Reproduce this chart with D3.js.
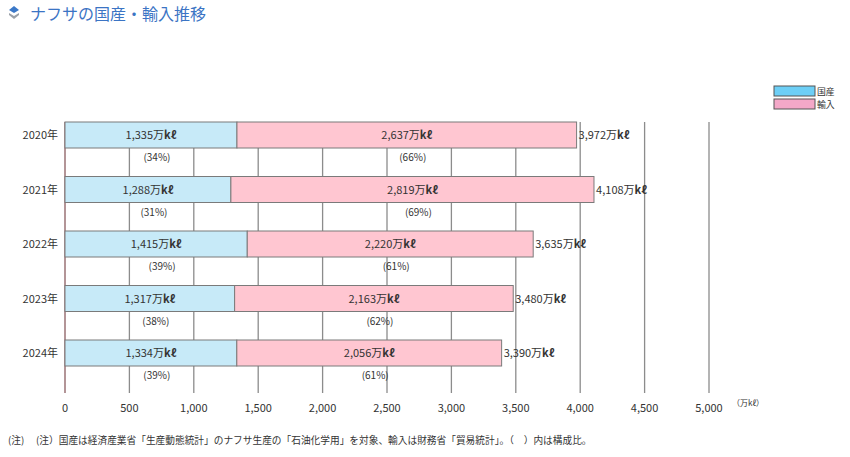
<!DOCTYPE html>
<html>
<head>
<meta charset="utf-8">
<script src="https://cdn.jsdelivr.net/npm/d3@7"></script>
<style>
  body { margin: 0; background: #fff; }
  text { font-family: "Noto Sans CJK JP", "Noto Sans", sans-serif; }
</style>
</head>
<body>
<script>
// data
var years = ["2020年", "2021年", "2022年", "2023年", "2024年"];
var domestic = [1335, 1288, 1415, 1317, 1334];
var imports = [2637, 2819, 2220, 2163, 2056];
var totals = [3972, 4108, 3635, 3480, 3390];
var domPct = ["(34%)", "(31%)", "(39%)", "(38%)", "(39%)"];
var impPct = ["(66%)", "(69%)", "(61%)", "(62%)", "(61%)"];
var xTicks = [0, 500, 1000, 1500, 2000, 2500, 3000, 3500, 4000, 4500, 5000];
var seriesNames = ["国産", "輸入"];

var w = 850, h = 457;
var svg = d3.select("body").append("svg")
    .attr("width", w)
    .attr("height", h);

var x = d3.scaleLinear().domain([0, 5000]).range([65, 709]);
var y = d3.scaleBand().domain(years).range([122, 394.5]);
var barH = 26;
var gridTop = 122, gridBottom = 393;

var fmt = d3.format(",");

// title
svg.append("path")
    .attr("d", "M14,6 L19,10 L14,13 L9,10 Z")
    .attr("fill", "#3b78c8");
svg.append("path")
    .attr("d", "M9,13 L14,16 L19,13 L19,15 L14,19 L9,15 Z")
    .attr("fill", "#9aa0a8");
svg.append("text")
    .attr("x", 30)
    .attr("y", 20)
    .attr("font-size", "16px")
    .attr("fill", "#3b74c4")
    .text("ナフサの国産・輸入推移");

// gridlines
svg.selectAll("line.grid")
    .data(xTicks)
    .enter()
    .append("line")
    .attr("class", "grid")
    .attr("x1", function(d) { return x(d); })
    .attr("x2", function(d) { return x(d); })
    .attr("y1", gridTop)
    .attr("y2", gridBottom)
    .attr("stroke", function(d) { return d === 0 ? "#8a5c60" : "#8c8c8c"; })
    .attr("stroke-width", 1.3);

// tick labels
svg.selectAll("text.tick")
    .data(xTicks)
    .enter()
    .append("text")
    .attr("class", "tick")
    .attr("x", function(d) { return x(d); })
    .attr("y", 412)
    .attr("text-anchor", "middle")
    .attr("font-size", "11px")
    .attr("fill", "#333")
    .text(function(d) { return fmt(d); });

svg.append("text")
    .attr("x", 732)
    .attr("y", 406)
    .attr("font-size", "8px")
    .attr("fill", "#333")
    .text("（万kℓ）");

var rows = years.map(function(d, i) {
    return { year: d, dom: domestic[i], imp: imports[i], tot: totals[i], dp: domPct[i], ip: impPct[i] };
});

// domestic bar
svg.selectAll("rect.dom")
    .data(rows)
    .enter()
    .append("rect")
    .attr("class", "dom")
    .attr("x", x(0))
    .attr("y", function(d) { return y(d.year); })
    .attr("width", function(d) { return x(d.dom) - x(0); })
    .attr("height", barH)
    .attr("fill", "#c7eaf8")
    .attr("stroke", "#7a7a7a");

// import bar
svg.selectAll("rect.imp")
    .data(rows)
    .enter()
    .append("rect")
    .attr("class", "imp")
    .attr("x", function(d) { return x(d.dom); })
    .attr("y", function(d) { return y(d.year); })
    .attr("width", function(d) { return x(d.dom + d.imp) - x(d.dom); })
    .attr("height", barH)
    .attr("fill", "#ffc6d1")
    .attr("stroke", "#7a7a7a");

function unitLabel(sel) {
    sel.append("tspan").text(function(d) { return d.v; });
    sel.append("tspan").text("万");
    sel.append("tspan").attr("font-weight", "bold").text("kℓ");
}

// year labels
svg.selectAll("text.year")
    .data(rows)
    .enter()
    .append("text")
    .attr("class", "year")
    .attr("x", 58)
    .attr("y", function(d) { return y(d.year) + barH / 2 + 4; })
    .attr("text-anchor", "end")
    .attr("font-size", "11px")
    .attr("fill", "#333")
    .text(function(d) { return d.year; });

// value labels inside bars
svg.selectAll("text.domv")
    .data(rows.map(function(d) { return { v: fmt(d.dom), cx: x(d.dom / 2), yr: d.year }; }))
    .enter()
    .append("text")
    .attr("class", "domv")
    .attr("x", function(d) { return d.cx; })
    .attr("y", function(d) { return y(d.yr) + barH / 2 + 4; })
    .attr("text-anchor", "middle")
    .attr("font-size", "11px")
    .attr("fill", "#333")
    .call(unitLabel);

svg.selectAll("text.impv")
    .data(rows.map(function(d) { return { v: fmt(d.imp), cx: x(d.dom + d.imp / 2), yr: d.year }; }))
    .enter()
    .append("text")
    .attr("class", "impv")
    .attr("x", function(d) { return d.cx; })
    .attr("y", function(d) { return y(d.yr) + barH / 2 + 4; })
    .attr("text-anchor", "middle")
    .attr("font-size", "11px")
    .attr("fill", "#333")
    .call(unitLabel);

svg.selectAll("text.totv")
    .data(rows.map(function(d) { return { v: fmt(d.tot), cx: x(d.tot) + 2, yr: d.year }; }))
    .enter()
    .append("text")
    .attr("class", "totv")
    .attr("x", function(d) { return d.cx; })
    .attr("y", function(d) { return y(d.yr) + barH / 2 + 4; })
    .attr("font-size", "11px")
    .attr("fill", "#333")
    .call(unitLabel);

// percentage labels
svg.selectAll("text.dp")
    .data(rows)
    .enter()
    .append("text")
    .attr("class", "dp")
    .attr("x", function(d) { return x(d.dom / 2) + 6; })
    .attr("y", function(d) { return y(d.year) + barH + 13; })
    .attr("text-anchor", "middle")
    .attr("font-size", "10px")
    .attr("fill", "#333")
    .text(function(d) { return d.dp; });

svg.selectAll("text.ip")
    .data(rows)
    .enter()
    .append("text")
    .attr("class", "ip")
    .attr("x", function(d) { return x(d.dom + d.imp / 2) + 6; })
    .attr("y", function(d) { return y(d.year) + barH + 13; })
    .attr("text-anchor", "middle")
    .attr("font-size", "10px")
    .attr("fill", "#333")
    .text(function(d) { return d.ip; });

// legend
var legendColors = ["#6dcff6", "#f4a8c8"];
var lg = svg.selectAll("g.legend")
    .data(seriesNames)
    .enter()
    .append("g")
    .attr("class", "legend")
    .attr("transform", function(d, i) { return "translate(774," + (86 + i * 13) + ")"; });
lg.append("rect")
    .attr("width", 41)
    .attr("height", 10)
    .attr("fill", function(d, i) { return legendColors[i]; })
    .attr("stroke", "#555");
lg.append("text")
    .attr("x", 43)
    .attr("y", 8.5)
    .attr("font-size", "8.8px")
    .attr("fill", "#333")
    .text(function(d) { return d; });

// note
svg.append("text")
    .attr("x", 8)
    .attr("y", 444)
    .attr("font-size", "9.7px")
    .attr("fill", "#333")
    .attr("xml:space", "preserve")
    .text("(注)　 (注）国産は経済産業省「生産動態統計」のナフサ生産の「石油化学用」を対象、輸入は財務省「貿易統計」。（　）内は構成比。");
</script>
</body>
</html>
